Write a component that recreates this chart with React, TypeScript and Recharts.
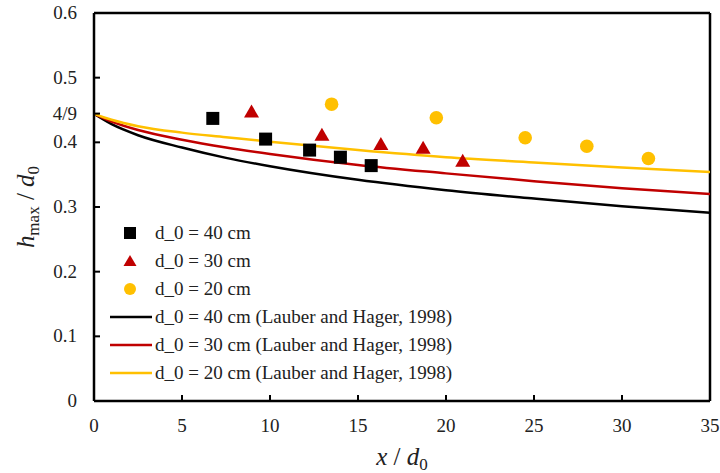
import {
  ComposedChart,
  Scatter,
  Line,
  XAxis,
  YAxis,
  ReferenceLine,
  Label,
} from "recharts";

const FONT = "Liberation Serif, DejaVu Serif, Times New Roman, serif";
const BLACK = "#000000";
const RED = "#C00000";
const GOLD = "#FFC000";

// measured points
const sq40X = [6.75, 9.75, 12.25, 14.0, 15.75];
const sq40Y = [0.437, 0.405, 0.388, 0.377, 0.364];
const tri30X = [8.95, 12.95, 16.3, 18.7, 20.95];
const tri30Y = [0.446, 0.41, 0.396, 0.39, 0.37];
const circ20X = [13.5, 19.45, 24.5, 28.0, 31.5];
const circ20Y = [0.459, 0.438, 0.407, 0.394, 0.375];

// Lauber and Hager (1998) curves
const curveX = [0, 1, 2.5, 5, 7.5, 10, 15, 20, 25, 30, 35];
const lh40Y = [0.444, 0.428, 0.411, 0.392, 0.376, 0.363, 0.342, 0.326, 0.313, 0.301, 0.291];
const lh30Y = [0.444, 0.432, 0.419, 0.404, 0.392, 0.382, 0.365, 0.352, 0.34, 0.329, 0.32];
const lh20Y = [0.444, 0.435, 0.425, 0.415, 0.408, 0.401, 0.388, 0.377, 0.369, 0.361, 0.354];

const xTicks = [0, 5, 10, 15, 20, 25, 30, 35];
const yTicks = [0, 0.1, 0.2, 0.3, 0.4, 4 / 9, 0.5, 0.6];

const zip = (xs: number[], ys: number[]) => xs.map((x, i) => ({ x, y: ys[i] }));

const legendItems = [
  { label: "d_0 = 40 cm", kind: "square", color: BLACK },
  { label: "d_0 = 30 cm", kind: "triangle", color: RED },
  { label: "d_0 = 20 cm", kind: "circle", color: GOLD },
  { label: "d_0 = 40 cm (Lauber and Hager, 1998)", kind: "line", color: BLACK },
  { label: "d_0 = 30 cm (Lauber and Hager, 1998)", kind: "line", color: RED },
  { label: "d_0 = 20 cm (Lauber and Hager, 1998)", kind: "line", color: GOLD },
];

function Square(props: any) {
  const { cx, cy } = props;
  return <rect x={cx - 6.5} y={cy - 6.5} width={13} height={13} fill={BLACK} />;
}

function Triangle(props: any) {
  const { cx, cy } = props;
  return (
    <polygon
      points={`${cx},${cy - 8} ${cx - 7.5},${cy + 5} ${cx + 7.5},${cy + 5}`}
      fill={RED}
    />
  );
}

function Dot(props: any) {
  const { cx, cy } = props;
  return <circle cx={cx} cy={cy} r={6.8} fill={GOLD} />;
}

function YTick(props: any) {
  const { x, y, payload } = props;
  const v = payload.value;
  const text = Math.abs(v - 4 / 9) < 1e-6 ? "4/9" : v === 0 ? "0" : v.toFixed(1);
  return (
    <g>
      <line x1={x} x2={x + 6} y1={y} y2={y} stroke={BLACK} strokeWidth={2} />
      <text x={x - 17} y={y + 6} textAnchor="end" style={{ fontFamily: FONT }} fontSize={19} fill="#222">
        {text}
      </text>
    </g>
  );
}

function XTick(props: any) {
  const { x, y, payload } = props;
  return (
    <g>
      <line x1={x} x2={x} y1={y} y2={y - 6} stroke={BLACK} strokeWidth={2} />
      <text x={x} y={y + 31} textAnchor="middle" style={{ fontFamily: FONT }} fontSize={19} fill="#222">
        {payload.value}
      </text>
    </g>
  );
}

function LegendBox() {
  return (
    <div style={{ position: "absolute", left: 108, top: 219, fontFamily: FONT, fontSize: 19, color: "#222" }}>
      {legendItems.map((it) => (
        <div key={it.label} style={{ display: "flex", alignItems: "center", height: 28 }}>
          <svg width={46} height={28} style={{ flex: "none" }}>
            {it.kind === "square" && <rect x={16} y={8} width={12} height={12} fill={it.color} />}
            {it.kind === "triangle" && <polygon points="22,8 15.5,19 28.5,19" fill={it.color} />}
            {it.kind === "circle" && <circle cx={22} cy={14} r={6} fill={it.color} />}
            {it.kind === "line" && <line x1={2} x2={44} y1={14} y2={14} stroke={it.color} strokeWidth={2.5} />}
          </svg>
          <span style={{ whiteSpace: "nowrap", marginLeft: 1 }}>{it.label}</span>
        </div>
      ))}
    </div>
  );
}

export default function App() {
  return (
    <div style={{ position: "relative", width: 720, height: 473, background: "#fff" }}>
      <style>{`body{margin:0}`}</style>
      <ComposedChart width={720} height={473} margin={{ top: 13, right: 10, left: 0, bottom: 0 }}>
        <XAxis
          type="number"
          dataKey="x"
          domain={[0, 35]}
          ticks={xTicks}
          interval={0}
          height={72}
          tickSize={0}
          tickMargin={0}
          tickLine={false}
          tick={<XTick />}
          stroke={BLACK}
          strokeWidth={2.5}
          allowDataOverflow
        >
          <Label
            content={(p: any) => {
              const vb = p.viewBox;
              return (
                <text x={vb.x + vb.width / 2} y={vb.y + 64} textAnchor="middle" style={{ fontFamily: FONT }} fontSize={25} fill="#222">
                  <tspan fontStyle="italic">x</tspan>
                  <tspan> / </tspan>
                  <tspan fontStyle="italic">d</tspan>
                  <tspan fontSize={17} dy={5}>0</tspan>
                </text>
              );
            }}
          />
        </XAxis>
        <YAxis
          type="number"
          domain={[0, 0.6]}
          ticks={yTicks}
          interval={0}
          width={94}
          tickSize={0}
          tickMargin={0}
          tickLine={false}
          tick={<YTick />}
          stroke={BLACK}
          strokeWidth={2.5}
          allowDataOverflow
        >
          <Label
            content={(p: any) => {
              const vb = p.viewBox;
              const cx = 34;
              const cy = vb.y + vb.height / 2;
              return (
                <text
                  x={cx}
                  y={cy}
                  transform={`rotate(-90 ${cx} ${cy})`}
                  textAnchor="middle"
                  style={{ fontFamily: FONT }}
                  fontSize={25}
                  fill="#222"
                >
                  <tspan fontStyle="italic">h</tspan>
                  <tspan fontSize={17} dy={5}>max</tspan>
                  <tspan dy={-5}> / </tspan>
                  <tspan fontStyle="italic">d</tspan>
                  <tspan fontSize={17} dy={5}>0</tspan>
                </text>
              );
            }}
          />
        </YAxis>
        <ReferenceLine y={0.6} stroke={BLACK} strokeWidth={2.5} />
        <ReferenceLine x={35} stroke={BLACK} strokeWidth={2.5} />
        <Line data={zip(curveX, lh40Y)} dataKey="y" type="monotone" stroke={BLACK} strokeWidth={2.5} dot={false} isAnimationActive={false} />
        <Line data={zip(curveX, lh30Y)} dataKey="y" type="monotone" stroke={RED} strokeWidth={2.5} dot={false} isAnimationActive={false} />
        <Line data={zip(curveX, lh20Y)} dataKey="y" type="monotone" stroke={GOLD} strokeWidth={2.5} dot={false} isAnimationActive={false} />
        <Scatter data={zip(sq40X, sq40Y)} dataKey="y" shape={<Square />} isAnimationActive={false} />
        <Scatter data={zip(tri30X, tri30Y)} dataKey="y" shape={<Triangle />} isAnimationActive={false} />
        <Scatter data={zip(circ20X, circ20Y)} dataKey="y" shape={<Dot />} isAnimationActive={false} />
      </ComposedChart>
      <LegendBox />
    </div>
  );
}
